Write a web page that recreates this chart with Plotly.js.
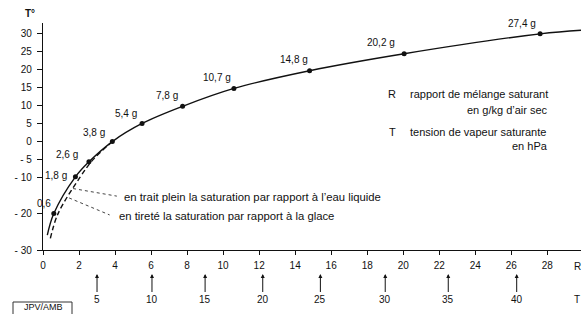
<!DOCTYPE html>
<html>
<head>
<meta charset="utf-8">
<script src="https://cdn.plot.ly/plotly-3.0.1.min.js"></script>
<style>html,body{margin:0;padding:0;background:#fff;}#chart{width:581px;height:314px;}</style>
</head>
<body>
<div id="chart"></div>
<script>
// Saturation curve over liquid water (solid): mixing ratio R (g/kg) vs temperature T (°C)
const waterR = [0.24, 0.6, 1.8, 2.55, 3.85, 5.5, 7.75, 10.6, 14.8, 20.05, 27.6, 29.87];
const waterT = [-25.9, -19.9, -9.75, -5.6, 0, 5, 9.75, 14.7, 19.6, 24.3, 29.8, 30.8];
// Saturation curve over ice (dashed)
const iceR = [0.41, 0.83, 2.04, 2.78, 3.85];
const iceT = [-26.8, -20, -10, -5, 0];
// Marked points and their labels
const dotR = [0.6, 1.8, 2.55, 3.85, 5.5, 7.75, 10.6, 14.8, 20.05, 27.6];
const dotT = [-19.9, -9.75, -5.6, 0, 5, 9.75, 14.7, 19.6, 24.3, 29.8];
const dotLabels = ["0,6", "1,8 g", "2,6 g", "3,8 g", "5,4 g", "7,8 g", "10,7 g", "14,8 g", "20,2 g", "27,4 g"];
// Saturation vapour pressure scale (hPa) placed at the corresponding R
const hpaR = [3.0, 6.05, 9.0, 12.2, 15.4, 19.0, 22.5, 26.3];
const hpaLabels = ["5", "10", "15", "20", "25", "30", "35", "40"];
// Axis ticks
const yTickVals = [30, 25, 20, 15, 10, 5, 0, -5, -10, -20, -30];
const yTickText = ["30", "25", "20", "15", "10", "5", "0", "- 5", "- 10", "- 20", "- 30"];
const xTickVals = [0, 2, 4, 6, 8, 10, 12, 14, 16, 18, 20, 22, 24, 26, 28];

// label offsets (style only)
const labShiftX = [-1, -6, -9, -5, -3, -3, -1, 0, -7, -2];
const labShiftY = [10, 1, 7, 9, 10, 11, 11, 11, 11, 10];

const FONT = "Liberation Sans, Arial, Helvetica, sans-serif";
const INK = "#111";

const W = 581, H = 314, ML = 43, MR = 0, MT = 23, MB = 64;
const PW = W - ML - MR, PH = H - MT - MB;
const px = x => (x - ML) / PW;
const py = y => (H - MB - y) / PH;

const traces = [
  {x: waterR, y: waterT, mode: "lines", line: {color: INK, width: 1.4, shape: "spline", smoothing: 1}, hoverinfo: "skip"},
  {x: iceR, y: iceT, mode: "lines", line: {color: INK, width: 1.4, dash: "5px,3px", shape: "spline", smoothing: 1}, hoverinfo: "skip"},
  {x: dotR, y: dotT, mode: "markers", marker: {color: INK, size: 5}, hoverinfo: "skip"}
];

const ann = [];
dotR.forEach((r, i) => ann.push({
  x: r, y: dotT[i], xref: "x", yref: "y", text: dotLabels[i], showarrow: false,
  xanchor: "right", yanchor: "middle", xshift: labShiftX[i], yshift: labShiftY[i],
  font: {family: FONT, size: 10, color: INK}
}));
hpaR.forEach((r, i) => ann.push({
  x: r, y: py(274), xref: "x", yref: "paper", text: hpaLabels[i], showarrow: true,
  ax: 0, ay: 25, arrowhead: 2, arrowsize: 0.8, arrowwidth: 1, arrowcolor: INK, standoff: 0,
  font: {family: FONT, size: 10, color: INK}
}));
const txt = (x, y, t, xa, size) => ann.push({x: px(x), y: py(y), xref: "paper", yref: "paper", text: t,
  showarrow: false, xanchor: xa, yanchor: "middle", font: {family: FONT, size: size || 10, color: INK}});
txt(30, 14, "<b>T°</b>", "center", 10);
txt(577, 266, "R", "center", 10);
txt(577, 299, "T", "center", 10);
txt(392, 94, "R", "center", 11);
txt(408, 94, "rapport de mélange saturant", "left", 11);
txt(550, 110, "en g/kg d’air sec", "right", 11);
txt(392, 132, "T", "center", 11);
txt(408, 132, "tension de vapeur saturante", "left", 11);
txt(550, 146, "en hPa", "right", 11);
ann.push({x: 4.38, y: -15.2, xref: "x", yref: "y", text: "en trait plein la saturation par rapport à l’eau liquide",
  showarrow: false, xanchor: "left", yanchor: "middle", font: {family: FONT, size: 11.3, color: INK}});
ann.push({x: 4.12, y: -20.7, xref: "x", yref: "y", text: "en tireté la saturation par rapport à la glace",
  showarrow: false, xanchor: "left", yanchor: "middle", font: {family: FONT, size: 11.3, color: INK}});
ann.push({x: px(43), y: py(314), xref: "paper", yref: "paper", text: "JPV/AMB", showarrow: false,
  xanchor: "center", yanchor: "bottom", font: {family: FONT, size: 9, color: INK}});

const shapes = [
  {type: "line", xref: "x", yref: "y", x0: 1.67, y0: -13.0, x1: 4.1, y1: -15.1, line: {color: "#444", width: 1, dash: "dot"}},
  {type: "line", xref: "x", yref: "y", x0: 1.45, y0: -15.6, x1: 3.7, y1: -20.3, line: {color: "#444", width: 1, dash: "dot"}},
  {type: "path", xref: "paper", yref: "paper",
   path: `M ${px(13)} ${py(320)} L ${px(13)} ${py(302)} L ${px(72)} ${py(302)} L ${px(72)} ${py(320)}`,
   line: {color: "#333", width: 1}}
];

const layout = {
  width: W, height: H,
  margin: {l: ML, r: MR, t: MT, b: MB, pad: 0},
  paper_bgcolor: "#fff", plot_bgcolor: "#fff",
  showlegend: false,
  font: {family: FONT, size: 10, color: INK},
  xaxis: {range: [0, 29.87], tickvals: xTickVals, ticks: "outside", ticklen: 4, tickcolor: INK,
          showline: true, linecolor: INK, linewidth: 1.2, showgrid: false, zeroline: false,
          tickfont: {family: FONT, size: 10, color: INK}, ticklabelstandoff: 2, fixedrange: true},
  yaxis: {range: [-30, 32.8], tickvals: yTickVals, ticktext: yTickText, ticks: "outside", ticklen: 5, tickcolor: INK,
          showline: true, linecolor: INK, linewidth: 1.2, showgrid: false, zeroline: false,
          tickfont: {family: FONT, size: 10, color: INK}, ticklabelstandoff: 3, fixedrange: true},
  annotations: ann,
  shapes: shapes
};

Plotly.newPlot("chart", traces, layout, {staticPlot: true, displayModeBar: false});
</script>
</body>
</html>
